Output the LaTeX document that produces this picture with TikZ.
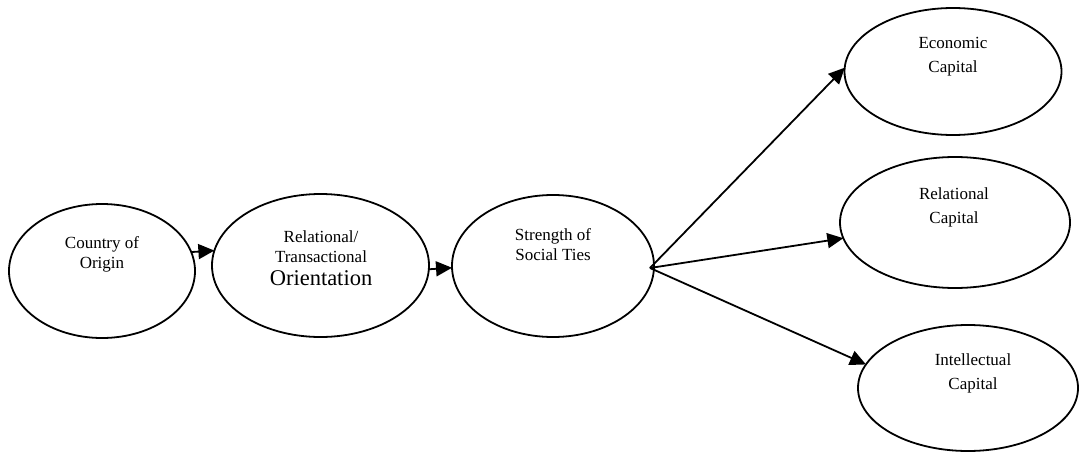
\documentclass[tikz,border=0pt]{standalone}
\usepackage{fontspec}
\setmainfont{Liberation Serif}
\usetikzlibrary{shapes.geometric,arrows.meta}
\begin{document}
\begin{tikzpicture}[x=1pt,y=-1pt,
  oval/.style={draw, ellipse, line width=1.8pt, inner sep=0pt, outer sep=0pt},
  lbl/.style={align=center, inner sep=0pt, font=\fontsize{17}{20}\selectfont},
  lblwide/.style={align=center, inner sep=0pt, font=\fontsize{17}{24}\selectfont},
  arr/.style={line width=1.8pt, -{Triangle[length=16pt,width=15pt]}}]
\useasboundingbox (0,0) rectangle (1079,452);

% chain of constructs
\node[oval, minimum width=186pt, minimum height=134pt] (origin) at (102,271) {};
\node[oval, minimum width=217pt, minimum height=143pt] (orient) at (320.5,265.5) {};
\node[oval, minimum width=202pt, minimum height=142pt] (ties) at (553,266) {};

% outcome constructs
\node[oval, minimum width=217pt, minimum height=127pt] (econ) at (953,71.5) {};
\node[oval, minimum width=230pt, minimum height=131pt] (relcap) at (955,222.5) {};
\node[oval, minimum width=220pt, minimum height=126pt] (intcap) at (968,388) {};

% labels
\node[lbl] (originT) at (102,254) {Country of\\Origin};
\node[lbl] (orientT) at (321,258) {Relational/\\Transactional\\[3pt]{\fontsize{22.5}{24}\selectfont Orientation}};
\node[lbl] (tiesT) at (553,245) {Strength of\\Social Ties};
\node[lblwide] (econT) at (953,57) {Economic\\Capital};
\node[lblwide] (relcapT) at (954,207) {Relational\\Capital};
\node[lblwide] (intcapT) at (973,373) {Intellectual\\Capital};

% paths
\coordinate (hub) at (650,268);
\draw[arr] (origin.12) -- (orient.172);
\draw[arr] (orient.-2) -- (ties.181);
\draw[arr] (hub) -- (econ.178);
\draw[arr] (hub) -- (relcap.188);
\draw[arr] (hub) -- (intcap.167);
\end{tikzpicture}
\end{document}
